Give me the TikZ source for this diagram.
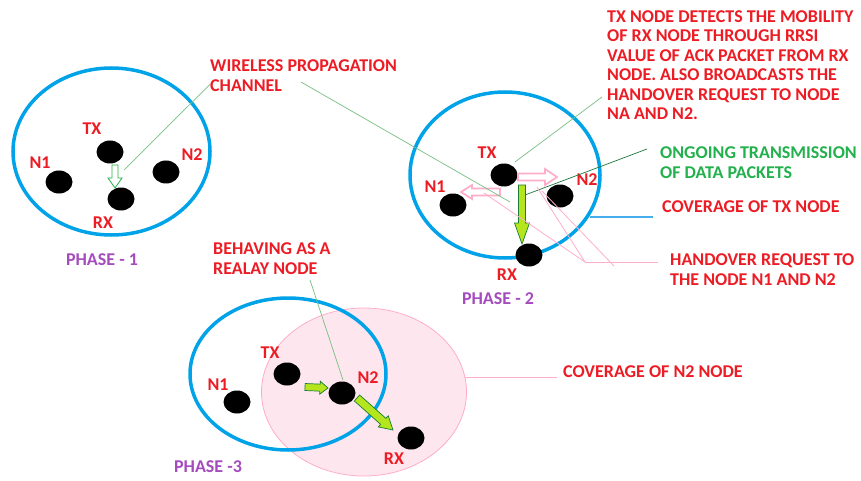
\documentclass[tikz,border=0pt]{standalone}
\usepackage{fontspec}
\setmainfont{Carlito}
\usetikzlibrary{shapes.geometric}

\definecolor{paintblue}{RGB}{0,162,232}
\definecolor{leadblue}{RGB}{70,175,235}
\definecolor{paintred}{RGB}{237,28,36}
\definecolor{paintpurple}{RGB}{165,75,190}
\definecolor{paintgreen}{RGB}{34,177,76}
\definecolor{darkgreen}{RGB}{30,120,60}
\definecolor{limegreen}{RGB}{181,230,29}
\definecolor{paintpink}{RGB}{255,174,201}
\definecolor{lightpink}{RGB}{253,230,238}
\definecolor{leadgreen}{RGB}{120,190,130}

% block arrow: style, x1, y1, x2, y2, shaft, head, head length
\newcommand{\blockarrow}[8]{%
  \pgfmathsetmacro{\arrang}{atan2(-(#5-#3),#4-#2)}%
  \pgfmathsetmacro{\arrlen}{veclen(#4-#2,#5-#3)}%
  \draw[#1,shift={(#2,#3)},rotate=\arrang]
    (0,-#6) -- (\arrlen-#8,-#6) -- (\arrlen-#8,-#7) -- (\arrlen,0)
    -- (\arrlen-#8,#7) -- (\arrlen-#8,#6) -- (0,#6) -- cycle;}

\begin{document}
\begin{tikzpicture}[x=1pt,y=-1pt,
  every node/.style={font=\bfseries\fontsize{18}{20}\selectfont,inner sep=0pt},
  dot/.style={ellipse,fill=black,minimum width=27pt,minimum height=23pt},
  coverage/.style={ellipse,draw=paintblue,line width=3.5pt},
  relay/.style={ellipse,draw=paintpink,fill=lightpink,line width=0.8pt},
  lbl/.style={text=paintred},
  phase/.style={text=paintpurple},
  note/.style={text=paintred,align=left,anchor=north west},
  lead/.style={leadgreen,line width=0.7pt},
  bluelead/.style={draw=leadblue,line width=1.1pt},
  pinklead/.style={paintpink,line width=0.8pt},
  hollowgreen/.style={draw=paintgreen,fill=white,line width=0.8pt},
  hollowpink/.style={draw=paintpink,fill=white,line width=1.7pt},
  solidgreen/.style={draw=paintgreen!70!black,fill=limegreen,line width=0.7pt}]
\useasboundingbox[fill=white] (0,0) rectangle (861,481);

% texts
\node[note] (wpc) at (210,59) {WIRELESS PROPAGATION\\CHANNEL};
\node[note,font=\bfseries\fontsize{18}{19.5}\selectfont] (detect) at (607,10)
  {TX NODE DETECTS THE MOBILITY\\OF RX NODE THROUGH RRSI\\VALUE OF ACK PACKET FROM RX\\NODE. ALSO BROADCASTS THE\\HANDOVER REQUEST TO NODE\\NA AND N2.};
\node[note,text=paintgreen] (ongoing) at (660,146) {ONGOING TRANSMISSION\\OF DATA PACKETS};
\node[note] (covtx) at (662,200) {COVERAGE OF TX NODE};
\node[note] (handover) at (670,253) {HANDOVER REQUEST TO\\THE NODE N1 AND N2};
\node[note] (relay) at (213,242) {BEHAVING AS A\\REALAY NODE};
\node[note] (covn2) at (563,365) {COVERAGE OF N2 NODE};

% phase 1
\node[coverage,minimum width=197pt,minimum height=167pt] (cov1) at (111.5,151.5) {};
\node[dot] (tx1) at (110,152) {};
\node[dot] (n11) at (59,182) {};
\node[dot] (rx1) at (121,199) {};
\node[dot] (n21) at (166,172) {};
\node[lbl] (ltx1) at (92,129) {TX};
\node[lbl] (ln11) at (40,163) {N1};
\node[lbl] (ln21) at (192,155) {N2};
\node[lbl] (lrx1) at (103,223) {RX};
\node[phase] (ph1) at (102,260) {PHASE - 1};
\blockarrow{hollowgreen}{115}{165}{115}{188}{3}{7}{10}

% phase 2
\node[coverage,minimum width=190pt,minimum height=166pt] (cov2) at (505,175) {};
\node[dot] (tx2) at (504,175) {};
\node[dot] (n12) at (453,205) {};
\node[dot] (n22) at (560,196) {};
\node[dot] (rx2) at (529,255) {};
\node[lbl] (ltx2) at (487,153) {TX};
\node[lbl] (ln12) at (435,187) {N1};
\node[lbl] (ln22) at (587,180) {N2};
\node[lbl] (lrx2) at (507,275) {RX};
\node[phase] (ph2) at (498,299) {PHASE - 2};
\blockarrow{hollowpink}{518}{177}{557}{177}{3.5}{8}{12}
\blockarrow{hollowpink}{500}{192}{461}{192}{3.5}{7}{11}
\blockarrow{solidgreen}{522}{185}{522}{244}{3.5}{7.5}{21}

% phase 3
\node[relay,minimum width=205pt,minimum height=168pt] (cov3n2) at (364,392) {};
\node[coverage,minimum width=196pt,minimum height=152pt] (cov3) at (288,374) {};
\node[dot] (tx3) at (287,374) {};
\node[dot] (n13) at (237,402) {};
\node[dot] (n23) at (342,393) {};
\node[dot] (rx3) at (411,438) {};
\node[lbl] (ltx3) at (270,353) {TX};
\node[lbl] (ln13) at (218,385) {N1};
\node[lbl] (ln23) at (368,378) {N2};
\node[lbl] (lrx3) at (394,459) {RX};
\node[phase] (ph3) at (208,467) {PHASE -3};
\blockarrow{solidgreen}{305}{387}{328}{388}{3.5}{6.5}{8}
\blockarrow{solidgreen}{357}{398}{393}{430}{4}{7.5}{13}

% leaders
\coordinate (wpcend) at (301,82);
\coordinate (detectend) at (602,97);
\coordinate (ongoingend) at (647,149);
\coordinate (hojoin) at (585,262);
\coordinate (covtxend) at (653,217);
\draw[lead] ([yshift=7pt]wpc.south west) -- (124,170);
\draw[lead] (wpcend) -- (510,202);
\draw[lead] (detectend) -- (515,162);
\draw[darkgreen,line width=0.7pt] (ongoingend) -- (525,195);
\draw[bluelead] (590,217) -- (covtxend);
\draw[pinklead] (484,193) -- (hojoin) -- (537,187);
\draw[pinklead] (hojoin) -- (658,262);
\draw[pinklead] (542,191) -- (614,266);
\draw[lead] (310,280) -- (343,380);
\draw[pinklead] (cov3n2.8) -- ++(92,0);
\end{tikzpicture}
\end{document}
